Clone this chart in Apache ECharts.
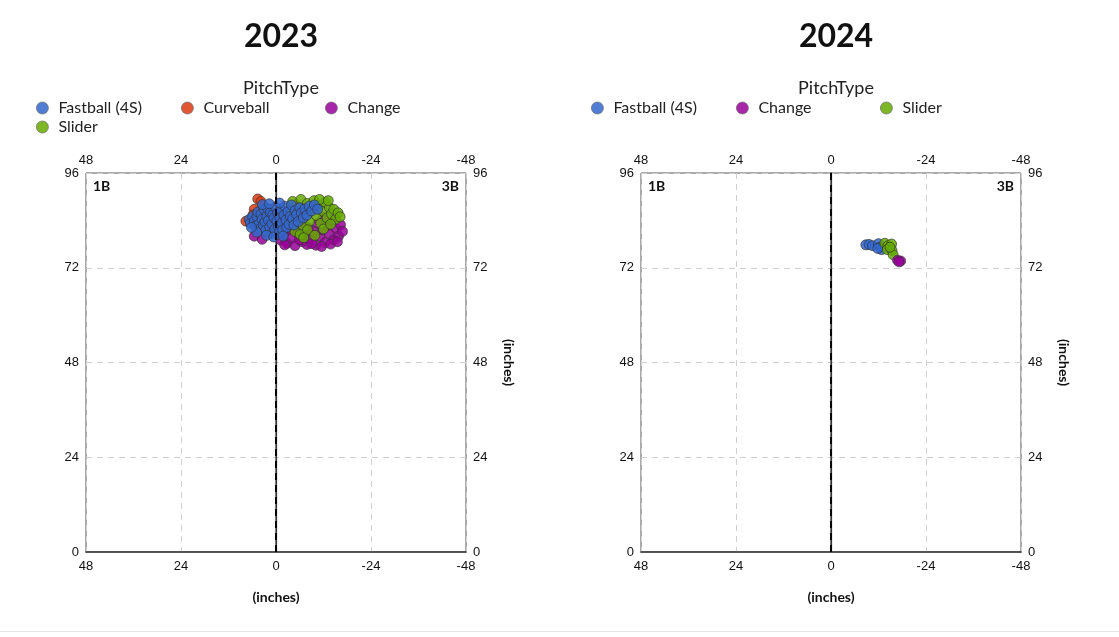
<!DOCTYPE html>
<html>
<head>
<meta charset="utf-8">
<script src="https://cdn.jsdelivr.net/npm/echarts@6/dist/echarts.min.js"></script>
<style>
html,body{margin:0;padding:0;background:#fff;}
#main{width:1119px;height:637px;}
</style>
</head>
<body>
<div id="main"></div>
<script>
// ---------- DATA (inches: [horizontal, vertical]) ----------
const years = ['2023', '2024'];
const xTicks = [-48, -24, 0, 24, 48];
const yTicks = [0, 24, 48, 72, 96];
const pitchTypes2023 = ['Fastball (4S)', 'Curveball', 'Change', 'Slider'];
const pitchTypes2024 = ['Fastball (4S)', 'Change', 'Slider'];
const colors = {
  'Fastball (4S)': '#3366cc',
  'Curveball': '#dc3912',
  'Change': '#990099',
  'Slider': '#66aa00'
};

const fastball2023 = [[6.8,84.2],[6.5,83.3],[5.9,85.0],[5.5,83.8],[5.2,82.6],[4.8,84.9],[4.6,86.1],[4.3,83.1],[4.0,81.9],[3.8,85.6],[3.5,84.3],[3.2,82.8],[3.0,86.8],[2.8,83.6],[2.6,81.5],[2.3,85.1],[2.1,87.0],[1.9,84.0],[1.6,82.3],[1.4,86.0],[1.2,80.6],[1.0,83.2],[0.8,85.4],[0.5,84.6],[0.3,81.8],[0.1,87.3],[-0.2,83.9],[-0.4,85.9],[-0.6,82.5],[-0.8,80.9],[-1.0,84.8],[-1.3,86.6],[-1.5,83.4],[-1.7,81.6],[-2.0,85.3],[-2.2,87.6],[-2.5,84.1],[-2.7,82.2],[-3.0,86.2],[-3.3,83.0],[-3.6,85.0],[-3.9,87.9],[-4.2,84.4],[-4.5,82.8],[-4.8,86.5],[-5.2,85.5],[-5.6,83.7],[-6.0,87.2],[-6.4,85.9],[-6.9,84.6],[-7.3,86.9],[-7.8,85.3],[-8.4,87.6],[-9.0,86.4],[-9.7,87.9],[-10.5,86.8],[2.4,80.2],[0.6,79.8],[-1.8,80.0],[4.9,81.0],[6.2,82.2],[3.4,88.0],[-0.9,88.4],[1.7,88.2]];
const curveball2023 = [[7.6,83.8],[4.6,89.4],[3.8,88.8],[5.5,86.8],[2.5,86.9],[0.6,85.3],[-1.8,85.6],[-5.0,88.0],[1.5,84.5],[5.8,85.4],[-0.5,83.5]];
const change2023 = [[-1.2,79.0],[-2.0,80.6],[-2.8,78.2],[-3.5,81.7],[-4.1,79.5],[-4.8,77.6],[-5.4,80.9],[-6.0,82.8],[-6.6,78.6],[-7.2,80.3],[-7.8,77.9],[-8.3,82.0],[-8.9,79.3],[-9.5,81.2],[-10.1,77.7],[-10.6,83.3],[-11.2,79.9],[-11.8,81.6],[-12.4,78.4],[-12.9,82.6],[-13.5,80.5],[-14.1,83.9],[-14.6,79.1],[-15.2,81.9],[-15.8,80.0],[-16.3,82.9],[-16.8,81.2],[-3.0,82.4],[-5.9,79.1],[-9.0,78.1],[-11.5,77.4],[-13.8,78.0],[-14.9,84.5],[-12.0,84.8],[-15.5,78.6],[-6.8,83.6],[-4.0,83.0],[-2.2,77.8],[5.5,80.0],[3.5,79.2]];
const slider2023 = [[-3.5,86.5],[-4.2,88.8],[-5.0,84.0],[-5.8,87.2],[-6.3,89.3],[-6.9,82.5],[-7.4,85.8],[-7.9,88.3],[-8.5,83.8],[-9.1,86.9],[-9.6,89.0],[-10.2,85.2],[-10.8,87.8],[-11.3,83.2],[-11.9,86.3],[-12.4,88.6],[-12.9,84.6],[-13.5,87.2],[-14.0,85.6],[-14.6,86.8],[-15.1,84.3],[-15.7,85.9],[-16.2,84.9],[-4.8,81.2],[-6.1,80.4],[-8.0,81.6],[-9.8,80.2],[-12.0,81.8],[-13.8,83.0],[-2.8,83.5],[-7.0,79.6],[-11.0,89.3],[-13.2,89.0]];

const fastball2024 = [[-8.8,77.8],[-9.6,77.9],[-10.5,77.6],[-12.0,78.1],[-12.4,77.2],[-12.8,76.6],[-11.8,76.9]];
const slider2024 = [[-13.6,78.2],[-14.4,77.6],[-15.3,78.0],[-14.2,76.6],[-15.4,76.4],[-15.7,75.3],[-14.9,77.2]];
const change2024 = [[-16.8,73.9],[-17.6,73.7],[-17.2,73.5]];

// ---------- LAYOUT ----------
const gridLefts = [86, 641];
const gridTop = 173, gridW = 380, gridH = 379;
const labelFont = 'Liberation Sans, Arial, sans-serif';
const textFont = 'Lato, sans-serif';

const chart = echarts.init(document.getElementById('main'));

const grids = [], xAxes = [], yAxes = [], series = [], titles = [], legends = [], graphics = [];

years.forEach((yr, gi) => {
  const L = gridLefts[gi];
  const cx = L + gridW / 2;
  grids.push({left: L, top: gridTop, width: gridW, height: gridH, show: true,
    borderColor: '#555', borderWidth: 1, backgroundColor: 'transparent'});
  const splitDash = {show: true, lineStyle: {color: '#d0d0d0', type: [6, 5], width: 1}};
  const axLabel = {color: '#111', fontSize: 13, fontFamily: labelFont};
  xAxes.push({gridIndex: gi, type: 'value', min: -48, max: 48, interval: 24, inverse: true,
    position: 'bottom', axisLine: {show: true, lineStyle: {color: '#333', width: 1.5}},
    axisTick: {show: false}, splitLine: splitDash,
    axisLabel: Object.assign({margin: 8}, axLabel),
    name: '(inches)', nameLocation: 'middle', nameGap: 38,
    nameTextStyle: {fontFamily: textFont, fontWeight: 'bold', fontSize: 14, color: '#111'}});
  xAxes.push({gridIndex: gi, type: 'value', min: -48, max: 48, interval: 24, inverse: true,
    position: 'top', axisLine: {show: true, lineStyle: {color: '#555', width: 1}},
    axisTick: {show: false}, splitLine: {show: false},
    axisLabel: Object.assign({margin: 6}, axLabel)});
  yAxes.push({gridIndex: gi, type: 'value', min: 0, max: 96, interval: 24, position: 'left',
    axisLine: {show: true, lineStyle: {color: '#555', width: 1.5}},
    axisTick: {show: false}, splitLine: splitDash,
    axisLabel: Object.assign({margin: 7}, axLabel)});
  yAxes.push({gridIndex: gi, type: 'value', min: 0, max: 96, interval: 24, position: 'right',
    axisLine: {show: true, lineStyle: {color: '#333', width: 1.2}},
    axisTick: {show: false}, splitLine: {show: false},
    axisLabel: Object.assign({margin: 7}, axLabel),
    name: '(inches)', nameLocation: 'middle', nameGap: 36, nameRotate: -90,
    nameTextStyle: {fontFamily: textFont, fontWeight: 'bold', fontSize: 14, color: '#111'}});

  titles.push({text: yr, left: cx, top: 16, textAlign: 'center',
    textStyle: {fontFamily: textFont, fontWeight: 'bold', fontSize: 32, color: '#111'}});
  titles.push({text: 'PitchType', left: cx, top: 74, textAlign: 'center',
    textStyle: {fontFamily: textFont, fontWeight: 'normal', fontSize: 18, color: '#222'}});

  graphics.push({type: 'text', left: L + 7, top: gridTop + 6,
    style: {text: '1B', font: 'bold 14px Lato, sans-serif', fill: '#111'}});
  graphics.push({type: 'text', right: 1119 - (L + gridW) + 7, top: gridTop + 6,
    style: {text: '3B', font: 'bold 14px Lato, sans-serif', fill: '#111'}});
});

function addSeries(name, data, gi, withLine) {
  const s = {name: name, type: 'scatter', xAxisIndex: gi * 2, yAxisIndex: gi * 2,
    data: data, symbolSize: 10,
    itemStyle: {color: colors[name], opacity: 0.85, borderColor: '#333', borderWidth: 0.8}};
  if (withLine) {
    s.markLine = {silent: true, symbol: 'none', label: {show: false},
      lineStyle: {color: '#000', type: [7, 5], width: 2},
      data: [{xAxis: 0}]};
  }
  series.push(s);
}
addSeries('Curveball', curveball2023, 0, true);
addSeries('Change', change2023, 0, false);
addSeries('Slider', slider2023, 0, false);
addSeries('Fastball (4S)', fastball2023, 0, false);
addSeries('Fastball (4S)', fastball2024, 1, true);
addSeries('Slider', slider2024, 1, false);
addSeries('Change', change2024, 1, false);

// individual legend items placed on fixed columns
const legendPos2023 = [[36, 100], [181, 100], [325, 100], [36, 119]];
const legendPos2024 = [[591, 100], [736, 100], [880, 100]];
function addLegend(name, pos) {
  legends.push({data: [name], left: pos[0], top: pos[1], icon: 'circle',
    itemWidth: 12, itemHeight: 12, padding: 0, selectedMode: false,
    itemStyle: {borderColor: '#666', borderWidth: 0.8},
    textStyle: {fontFamily: textFont, fontSize: 16, color: '#222', padding: [0, 0, 0, 5]}});
}
pitchTypes2023.forEach((n, i) => addLegend(n, legendPos2023[i]));
pitchTypes2024.forEach((n, i) => addLegend(n, legendPos2024[i]));

graphics.push({type: 'rect', left: 0, top: 631, shape: {width: 1119, height: 1},
  style: {fill: '#e6e6e6'}});

chart.setOption({
  backgroundColor: '#fff',
  animation: false,
  title: titles,
  legend: legends,
  grid: grids,
  xAxis: xAxes,
  yAxis: yAxes,
  series: series,
  graphic: graphics
});
</script>
</body>
</html>
